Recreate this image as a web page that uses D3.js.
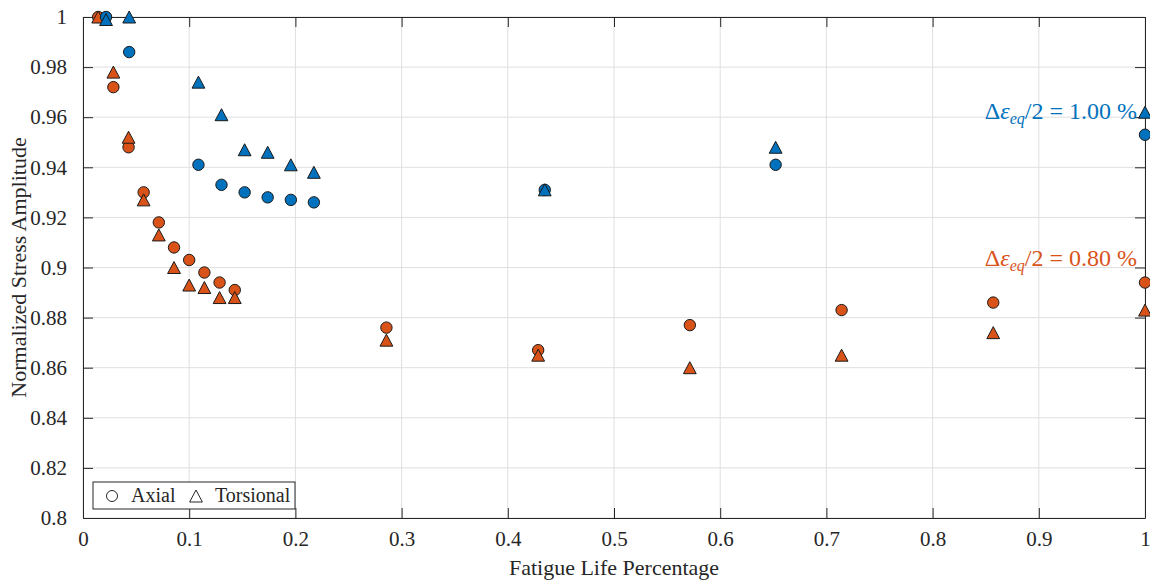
<!DOCTYPE html>
<html>
<head>
<meta charset="utf-8">
<script src="https://cdn.jsdelivr.net/npm/d3@7"></script>
<style>
  body { margin: 0; background: #fff; }
  svg text { font-family: "Liberation Serif", "Times New Roman", Times, "DejaVu Serif", serif; }
</style>
</head>
<body>
<div id="chart"></div>
<script>
// life fractions and normalized amplitudes
const blueX = [0.0217, 0.0435, 0.1087, 0.1304, 0.1522, 0.1739, 0.1957, 0.2174, 0.4348, 0.6522, 1.0];
const blueAxial = [1.000, 0.986, 0.941, 0.933, 0.930, 0.928, 0.927, 0.926, 0.931, 0.941, 0.953];
const blueTorsional = [0.999, 1.000, 0.974, 0.961, 0.947, 0.946, 0.941, 0.938, 0.931, 0.948, 0.962];

const orangeX = [0.0143, 0.0286, 0.0429, 0.0571, 0.0714, 0.0857, 0.1, 0.1143, 0.1286, 0.1429, 0.2857, 0.4286, 0.5714, 0.7143, 0.8571, 1.0];
const orangeAxial = [1.000, 0.972, 0.948, 0.930, 0.918, 0.908, 0.903, 0.898, 0.894, 0.891, 0.876, 0.867, 0.877, 0.883, 0.886, 0.894];
const orangeTorsional = [1.000, 0.978, 0.952, 0.927, 0.913, 0.900, 0.893, 0.892, 0.888, 0.888, 0.871, 0.865, 0.860, 0.865, 0.874, 0.883];

const xTicks = [0, 0.1, 0.2, 0.3, 0.4, 0.5, 0.6, 0.7, 0.8, 0.9, 1];
const yTicks = [0.8, 0.82, 0.84, 0.86, 0.88, 0.9, 0.92, 0.94, 0.96, 0.98, 1];
const strainLabels = ['1.00', '0.80'];

const size = { width: 1150, height: 580 };
const margin = { left: 83, right: 5, top: 17, bottom: 62 };
const w = size.width - margin.left - margin.right;
const h = size.height - margin.top - margin.bottom;

const blue = '#0072BD';
const orange = '#D95319';
const axisColor = '#262626';
const serif = '"Liberation Serif", "Times New Roman", Times, "DejaVu Serif", serif';

const x = d3.scaleLinear().domain([0, 1]).range([0, w]);
const y = d3.scaleLinear().domain([0.8, 1]).range([h, 0]);

const svg = d3.select('#chart')
  .append('svg')
  .attr('width', size.width)
  .attr('height', size.height)
  .attr('font-family', serif);

const g = svg.append('g')
  .attr('transform', `translate(${margin.left},${margin.top})`);

// grid
g.append('g')
  .selectAll('line')
  .data(xTicks)
  .enter()
  .append('line')
  .attr('x1', (d) => x(d)).attr('x2', (d) => x(d))
  .attr('y1', 0).attr('y2', h)
  .attr('stroke', '#dfdfdf');
g.append('g')
  .selectAll('line')
  .data(yTicks)
  .enter()
  .append('line')
  .attr('y1', (d) => y(d)).attr('y2', (d) => y(d))
  .attr('x1', 0).attr('x2', w)
  .attr('stroke', '#dfdfdf');

// axes, ticks pointing inward on all four sides
const tickLen = 10;
const fmt = (d) => d3.format('~g')(d);
const styleAxis = (sel) => {
  sel.attr('font-family', serif).attr('font-size', 21);
  sel.select('.domain').attr('stroke', axisColor);
  sel.selectAll('.tick line').attr('stroke', axisColor);
  sel.selectAll('.tick text').attr('fill', axisColor);
};

g.append('g')
  .attr('transform', `translate(0,${h})`)
  .call(d3.axisBottom(x).tickValues(xTicks).tickFormat(fmt).tickSizeInner(-tickLen).tickSizeOuter(0).tickPadding(13))
  .call(styleAxis);
g.append('g')
  .call(d3.axisTop(x).tickValues(xTicks).tickFormat('').tickSizeInner(-tickLen).tickSizeOuter(0))
  .call(styleAxis);
g.append('g')
  .call(d3.axisLeft(y).tickValues(yTicks).tickFormat(fmt).tickSizeInner(-tickLen).tickSizeOuter(0).tickPadding(16))
  .call(styleAxis);
g.append('g')
  .attr('transform', `translate(${w},0)`)
  .call(d3.axisRight(y).tickValues(yTicks).tickFormat('').tickSizeInner(-tickLen).tickSizeOuter(0))
  .call(styleAxis);

// markers
const triPath = (cx, cy) => {
  const hw = 6.4;
  const hh = 6;
  return `M${cx},${cy - hh}L${cx + hw},${cy + hh}L${cx - hw},${cy + hh}Z`;
};

function drawCircles(xs, ys, color) {
  g.append('g')
    .selectAll('circle')
    .data(xs.map((d, i) => ({ x: d, y: ys[i] })))
    .enter()
    .append('circle')
    .attr('cx', (d) => x(d.x))
    .attr('cy', (d) => y(d.y))
    .attr('r', 5.7)
    .attr('fill', color)
    .attr('stroke', '#1a1a1a')
    .attr('stroke-width', 1);
}

function drawTriangles(xs, ys, color) {
  g.append('g')
    .selectAll('path')
    .data(xs.map((d, i) => ({ x: d, y: ys[i] })))
    .enter()
    .append('path')
    .attr('d', (d) => triPath(x(d.x), y(d.y)))
    .attr('fill', color)
    .attr('stroke', '#1a1a1a')
    .attr('stroke-width', 1);
}

drawCircles(orangeX, orangeAxial, orange);
drawTriangles(orangeX, orangeTorsional, orange);
drawCircles(blueX, blueAxial, blue);
drawTriangles(blueX, blueTorsional, blue);

// strain amplitude annotations
function strainText(yPos, label, color) {
  const t = g.append('text')
    .attr('x', w - 8)
    .attr('y', yPos)
    .attr('text-anchor', 'end')
    .attr('fill', color)
    .attr('font-size', 24);
  t.append('tspan').text('Δ');
  t.append('tspan').attr('font-style', 'italic').text('ε');
  t.append('tspan').attr('font-style', 'italic').attr('font-size', 16).attr('dy', 5).text('eq');
  t.append('tspan').attr('dy', -5).text(`/2 = ${label} %`);
}
strainText(y(0.9593), strainLabels[0], blue);
strainText(y(0.9006), strainLabels[1], orange);

// axis labels
svg.append('text')
  .attr('x', margin.left + w / 2)
  .attr('y', 575)
  .attr('text-anchor', 'middle')
  .attr('fill', axisColor)
  .attr('font-size', 22)
  .text('Fatigue Life Percentage');
svg.append('text')
  .attr('transform', `translate(26,${margin.top + h / 2}) rotate(-90)`)
  .attr('text-anchor', 'middle')
  .attr('fill', axisColor)
  .attr('font-size', 22)
  .text('Normalized Stress Amplitude');

// legend
const legend = svg.append('g').attr('transform', 'translate(93,482)');
legend.append('rect')
  .attr('width', 202)
  .attr('height', 27)
  .attr('fill', '#fff')
  .attr('stroke', axisColor);
legend.append('circle')
  .attr('cx', 19).attr('cy', 14).attr('r', 5.5)
  .attr('fill', 'none').attr('stroke', axisColor);
legend.append('text')
  .attr('x', 38).attr('y', 20)
  .attr('fill', axisColor)
  .attr('font-size', 20)
  .text('Axial');
legend.append('path')
  .attr('d', triPath(103, 14))
  .attr('fill', 'none').attr('stroke', axisColor);
legend.append('text')
  .attr('x', 122).attr('y', 20)
  .attr('fill', axisColor)
  .attr('font-size', 20)
  .text('Torsional');
</script>
</body>
</html>
